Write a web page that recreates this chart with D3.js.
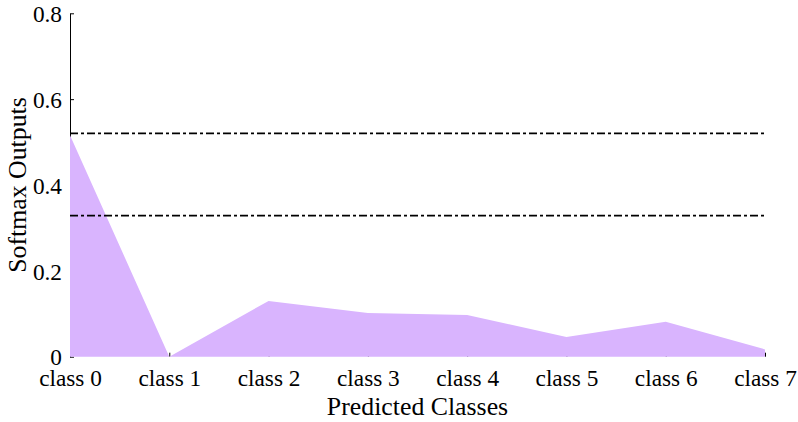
<!DOCTYPE html>
<html><head><meta charset="utf-8">
<script src="https://cdn.jsdelivr.net/npm/d3@7"></script>
<style>body{margin:0;background:#fff}svg{display:block}</style>
</head><body>
<script>
const categories = ["class 0","class 1","class 2","class 3","class 4","class 5","class 6","class 7"];
const softmaxValues = [0.516, 0.0, 0.130, 0.102, 0.097, 0.046, 0.0815, 0.017];
const thresholds = [0.5205, 0.3285];
const yTicks = [0, 0.2, 0.4, 0.6, 0.8];
const yTickLabels = ["0","0.2","0.4","0.6","0.8"];

const W = 798, H = 422;
const m = {left: 70, right: 33, top: 13.3, bottom: 65.3};
const svg = d3.select("body").append("svg").attr("width", W).attr("height", H);
const font = "'Liberation Serif', 'Times New Roman', serif";
const tickFs = 23.3, labelFs = 25.8;

const x = d3.scalePoint().domain(categories).range([m.left, W - m.right]);
const y = d3.scaleLinear().domain([0, 0.8]).range([H - m.bottom, m.top]);

// y axis (ticks inward)
const yAxis = svg.append("g").attr("transform", `translate(${m.left},0)`)
  .call(d3.axisRight(y).tickValues(yTicks).tickFormat((d,i)=>yTickLabels[i]).tickSize(4).tickSizeOuter(0));
yAxis.select(".domain").attr("stroke", "#000");
yAxis.selectAll(".tick line").attr("stroke", "#000");
yAxis.selectAll(".tick text").attr("x", -8).attr("text-anchor", "end")
  .attr("font-family", font).attr("font-size", tickFs).attr("fill", "#000").attr("dy", "0.35em");

// x axis ticks (inward), labels below, no visible baseline
const xAxis = svg.append("g").attr("transform", `translate(0,${y(0)})`)
  .call(d3.axisTop(x).tickSize(4).tickSizeOuter(0));
xAxis.select(".domain").remove();
xAxis.selectAll(".tick line").attr("stroke", "#000");
xAxis.selectAll(".tick text").attr("y", 29.3).attr("dy", 0)
  .attr("font-family", font).attr("font-size", tickFs).attr("fill", "#000");

// area
const area = d3.area().x((d,i)=>x(categories[i])).y0(y(0)).y1(d=>y(d));
svg.append("path").datum(softmaxValues).attr("d", area).attr("fill", "#d9b4fe");

// threshold lines
svg.selectAll("line.thr").data(thresholds).join("line").attr("class","thr")
  .attr("x1", m.left).attr("x2", W - m.right)
  .attr("y1", d=>y(d)).attr("y2", d=>y(d))
  .attr("stroke", "#000").attr("stroke-width", 1.7).attr("stroke-dasharray", "8,3,3,3");

// axis labels
svg.append("text").attr("x", (m.left + W - m.right)/2).attr("y", 415)
  .attr("text-anchor","middle").attr("font-family", font).attr("font-size", labelFs).text("Predicted Classes");
svg.append("text").attr("transform", `translate(26,${(m.top + y(0))/2}) rotate(-90)`)
  .attr("text-anchor","middle").attr("font-family", font).attr("font-size", labelFs).text("Softmax Outputs");
</script>
</body></html>
